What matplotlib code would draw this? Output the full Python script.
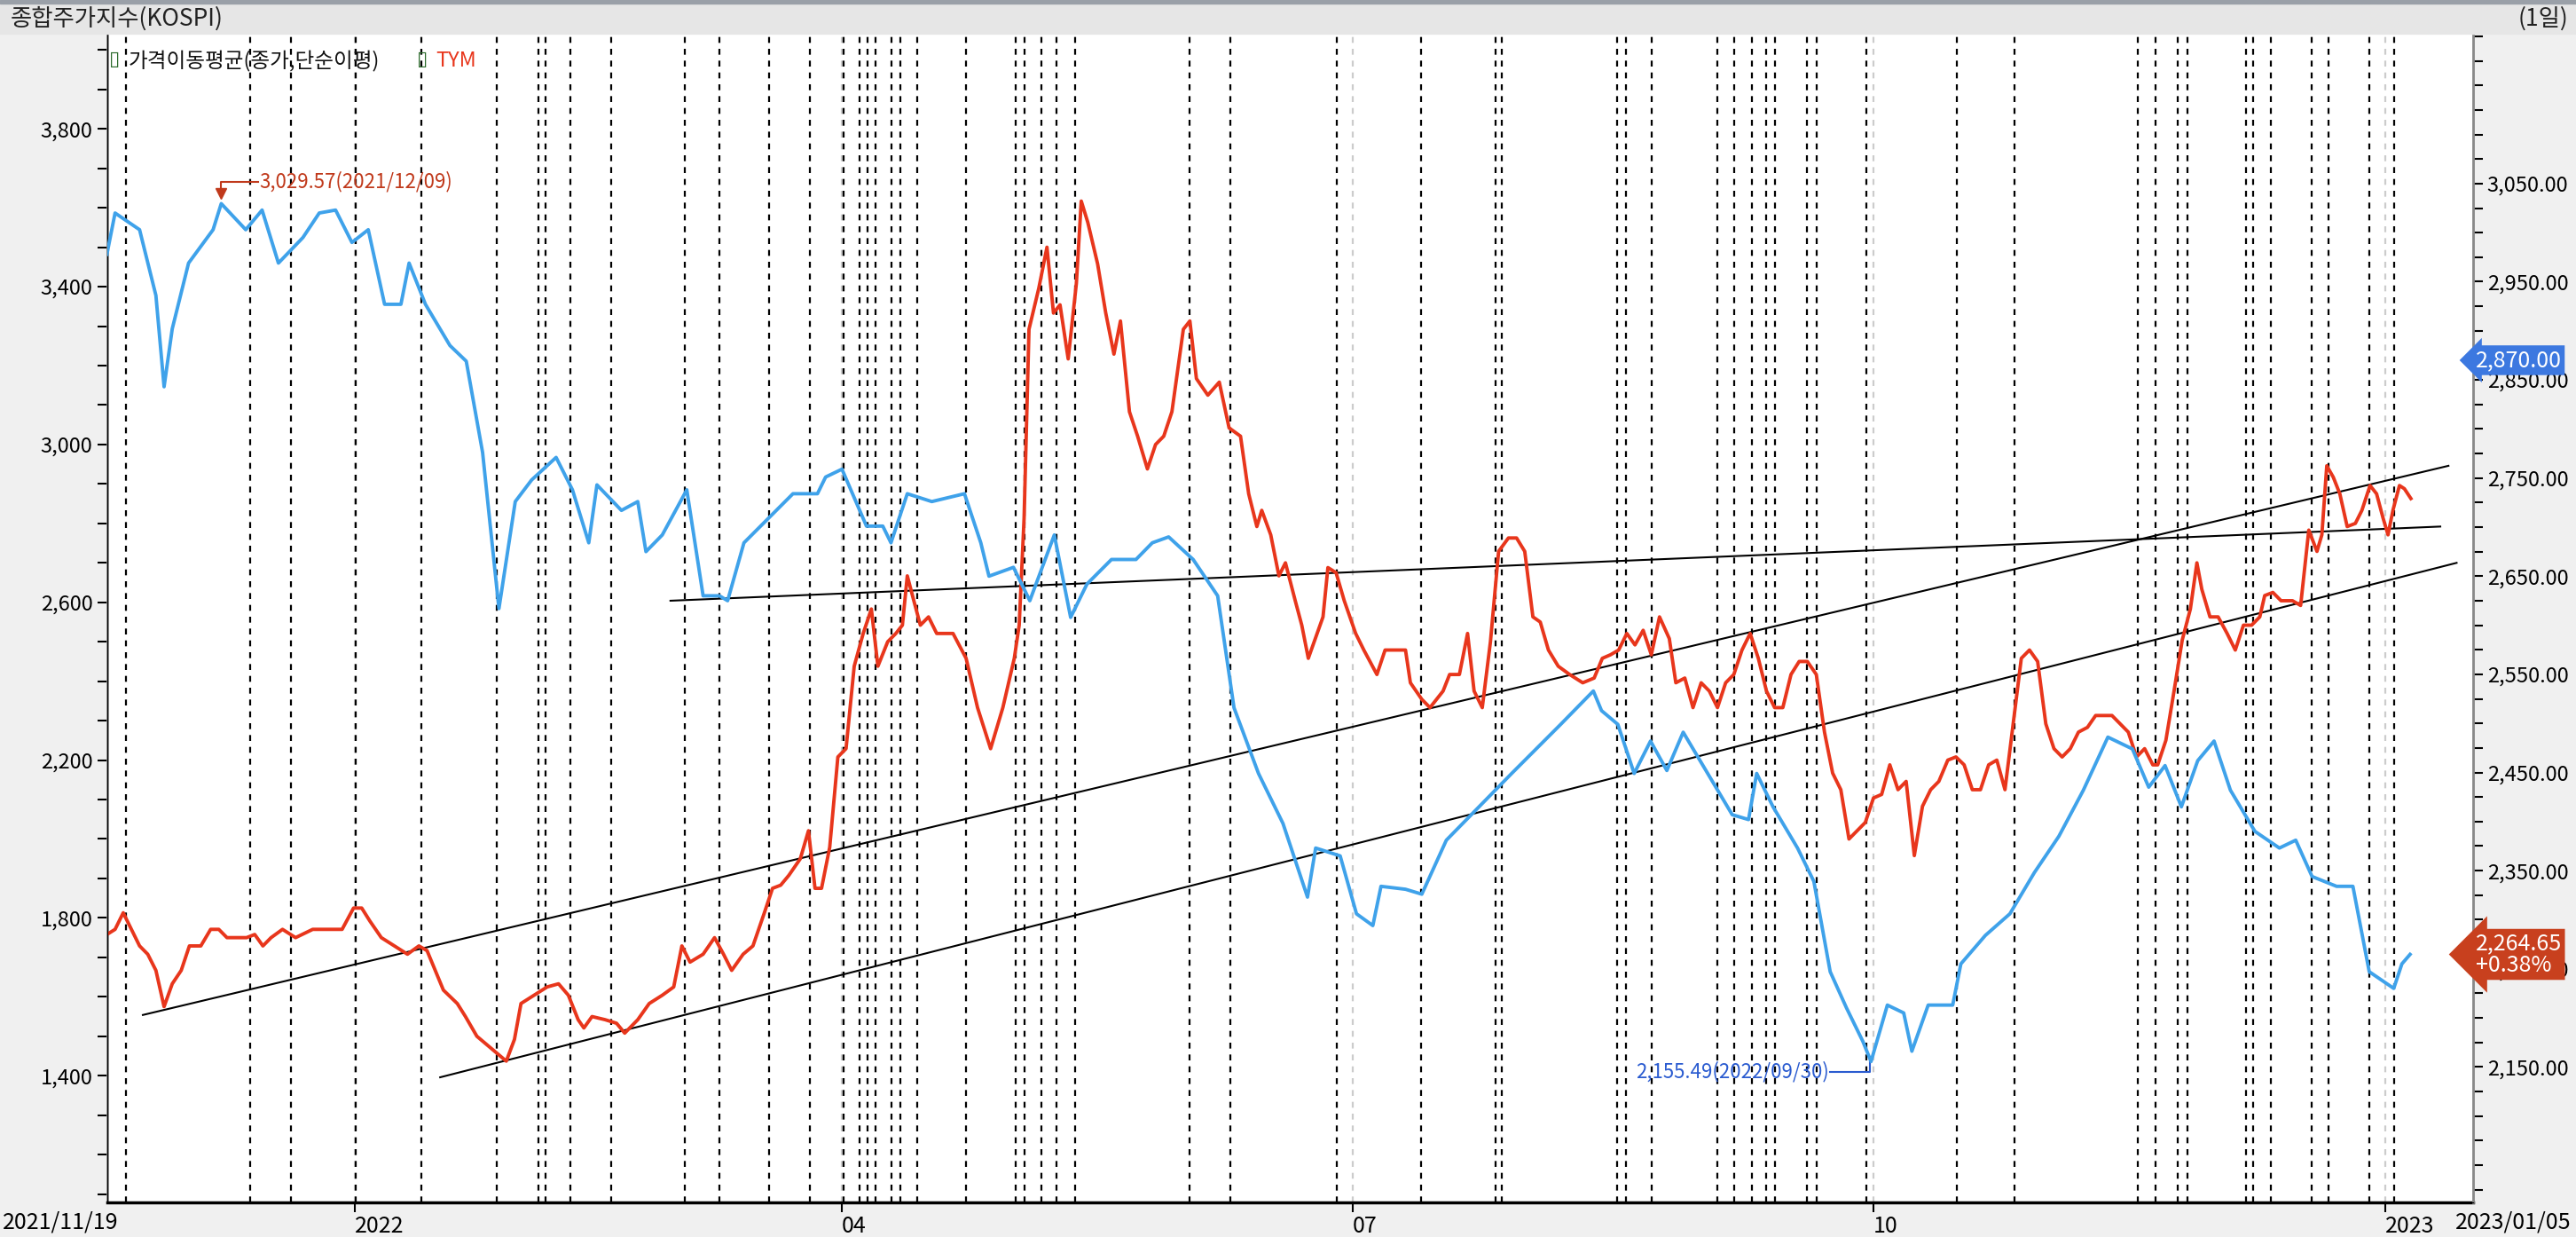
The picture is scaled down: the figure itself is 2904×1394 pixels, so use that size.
import matplotlib
matplotlib.use("Agg")
import matplotlib.pyplot as plt
from matplotlib.ticker import MultipleLocator, FuncFormatter
from matplotlib.patches import Rectangle

plt.rcParams['font.family'] = ['Noto Sans CJK KR', 'DejaVu Sans']

# ---- data (trading-day index, values) ----
kospi_days = [0,1,4,6,7,8,10,13,14,17,19,21,24,26,28,30,32,34,36,37,39,42,44,46,48,50,52,55,57,59,60,63,65,66,68,71,73,75,76,78,81,84,87,88,90,93,95,96,98,101,105,107,108,111,113,116,118,120,123,126,128,130,133,136,138,141,144,147,148,151,153,155,156,159,161,164,168,172,175,178,182,183,185,187,189,191,193,196,199,201,202,204,207,209,211,213,215,216,218,220,221,223,226,227,230,233,236,239,242,245,248,250,252,254,256,258,260,263,266,268,270,273,275,277,280,281,282]
kospi = [2978,3020,3003,2936,2843,2902,2969,3003,3029.57,3003,3023,2969,2995,3020,3023,2990,3003,2927,2927,2969,2927,2885,2869,2776,2617,2726,2748,2771,2738,2684,2743,2717,2726,2675,2692,2738,2630,2630,2625,2684,2709,2734,2734,2751,2759,2701,2701,2684,2734,2726,2734,2684,2650,2659,2625,2692,2608,2642,2667,2667,2684,2690,2667,2630,2516,2449,2398,2323,2373,2365,2306,2294,2334,2331,2326,2381,2415,2449,2474,2499,2533,2513,2499,2449,2482,2452,2491,2449,2407,2402,2449,2415,2373,2339,2247,2210,2176,2155.49,2213,2205,2166,2213,2213,2255,2284,2306,2348,2385,2432,2486,2474,2435,2457,2415,2462,2482,2432,2390,2373,2381,2344,2334,2334,2247,2230,2255,2264.65]

tym_days = [0,1.0,2.0,3.0,4.0,5.0,6.0,7.0,8.0,9.1,10.1,11.5,12.7,13.7,14.7,16.1,17.1,18.1,19.1,20.1,21.5,23.1,25.2,27.2,28.8,30.2,31.2,32.2,33.6,35.2,36.8,38.2,39.2,40.2,41.2,42.9,43.9,45.3,46.5,47.7,48.9,49.9,50.7,52.3,53.9,55.3,56.5,57.7,58.4,59.4,61.0,62.4,63.4,65.0,66.4,68.0,69.4,70.4,71.4,73.0,74.4,75.5,76.5,77.9,79.1,80.5,81.5,82.5,83.5,84.9,85.9,86.7,87.5,88.5,89.5,90.5,91.5,92.6,93.6,94.4,95.6,96.6,97.4,98.0,98.8,99.6,100.6,101.6,102.6,103.6,105.2,106.6,108.2,109.7,111.1,111.7,112.3,112.9,114.1,115.1,115.9,116.7,117.7,118.7,119.3,120.1,121.3,122.3,123.3,124.1,125.2,126.2,127.4,128.4,129.4,130.4,131.8,132.6,133.4,134.8,136.2,137.4,138.8,139.8,140.8,141.4,142.5,143.5,144.3,145.5,146.3,147.1,148.9,149.5,150.5,151.5,152.9,153.9,155.5,156.5,157.5,159.0,159.6,161.0,162.0,163.6,164.4,165.6,166.6,167.4,168.4,169.4,170.4,171.6,172.6,173.6,174.6,175.5,176.5,177.7,179.1,180.7,182.1,183.1,184.1,185.1,186.1,187.1,188.1,189.1,190.1,191.3,192.1,193.2,194.2,195.2,196.2,197.2,198.2,199.2,200.2,201.2,202.2,203.2,204.2,205.2,206.2,207.2,208.2,209.3,210.3,211.3,212.3,213.3,214.3,215.3,216.3,217.3,218.3,219.3,220.3,221.3,222.3,223.3,224.3,225.4,226.4,227.4,228.4,229.4,230.4,231.4,232.4,233.4,234.4,235.4,236.4,237.4,238.4,239.4,240.4,241.4,242.5,243.5,244.5,245.5,246.5,247.5,248.5,249.5,250.5,251.1,252.1,253.1,254.1,255.1,255.9,256.5,257.5,258.5,259.6,260.6,261.6,262.6,263.6,264.2,265.2,266.2,267.6,268.6,269.6,270.6,271.2,271.8,272.6,273.4,274.3,275.3,276.1,277.1,277.9,278.7,279.3,279.9,280.7,281.3,282.1]
tym = [1758,1771,1813,1771,1729,1708,1667,1575,1633,1667,1729,1729,1771,1771,1750,1750,1750,1758,1729,1750,1771,1750,1771,1771,1771,1825,1825,1792,1750,1729,1708,1729,1717,1667,1617,1583,1550,1500,1479,1458,1437,1492,1583,1604,1625,1633,1604,1542,1521,1550,1542,1533,1508,1542,1583,1604,1625,1729,1688,1708,1750,1708,1667,1708,1729,1813,1875,1883,1908,1950,2021,1875,1875,1979,2208,2229,2438,2521,2583,2438,2500,2521,2542,2667,2604,2542,2563,2521,2521,2521,2458,2333,2229,2333,2458,2542,2813,3292,3396,3500,3333,3354,3217,3408,3617,3563,3458,3333,3229,3313,3083,3021,2938,3000,3021,3083,3292,3313,3167,3125,3158,3042,3021,2875,2792,2833,2771,2667,2700,2604,2542,2458,2563,2688,2675,2604,2521,2479,2417,2479,2479,2479,2396,2354,2333,2375,2417,2417,2521,2375,2333,2500,2729,2763,2763,2729,2563,2550,2479,2438,2417,2396,2408,2458,2467,2479,2521,2492,2529,2467,2563,2508,2396,2408,2333,2396,2375,2333,2396,2417,2479,2521,2458,2375,2333,2333,2417,2450,2450,2417,2271,2167,2125,2000,2021,2042,2104,2113,2188,2125,2146,1958,2083,2125,2146,2200,2208,2188,2125,2125,2188,2200,2125,2292,2458,2479,2450,2292,2229,2208,2229,2271,2283,2313,2313,2313,2292,2271,2208,2229,2188,2188,2250,2375,2504,2583,2700,2633,2563,2563,2521,2479,2542,2542,2563,2617,2625,2604,2604,2592,2783,2729,2771,2946,2917,2875,2792,2800,2833,2896,2875,2813,2771,2833,2896,2888,2863]

n = min(len(tym_days), len(tym))
tym_days = tym_days[:n]; tym = tym[:n]

vlines = [2.3,17.5,22.5,30.5,38.5,47.7,52.8,53.7,56.7,61.7,70.8,75,81.1,86.1,90.2,92.2,93.1,94.1,96.1,97.2,99.2,105.2,111.3,112.4,114.4,116.3,118.5,132.6,137.6,150.6,160.9,170,170.8,184.9,186,189.1,197.2,199.2,201.4,203.2,204.2,208.2,209.3,215.4,226.5,233.6,248.7,250.8,253.6,254.7,261.9,262.8,265,270,272,277,280]
tick_pos = [30.4, 90, 152.5, 216.3, 279]
tick_labels = ['2022', '04', '07', '10', '2023']
left_ticks = [1400, 1800, 2200, 2600, 3000, 3400, 3800]
right_ticks = [2150, 2250, 2350, 2450, 2550, 2650, 2750, 2850, 2950, 3050]

trend_x = [[4.4, 286.7], [40.8, 287.7], [69, 285.7]]
trend_y = [[1554, 2946], [1396, 2700], [2604, 2792]]

BLUE = '#3fa2ea'
RED = '#e8361c'

fig = plt.figure(figsize=(29.04, 13.94), dpi=100, facecolor='#f0f0f0')
fig.patches.append(Rectangle((0, 0.973), 1, 0.024, transform=fig.transFigure, color='#e6e6e6', zorder=0))
fig.patches.append(Rectangle((0, 0.997), 1, 0.003, transform=fig.transFigure, color='#9aa0a8', zorder=0))
fig.text(0.004, 0.985, '종합주가지수(KOSPI)', fontsize=19, va='center', ha='left', color='#222222')
fig.text(0.997, 0.985, '(1일)', fontsize=19, va='center', ha='right', color='#222222')

ax = fig.add_axes([0.0415, 0.028, 0.9185, 0.945])
ax.set_facecolor('white')
ax2 = ax.twinx()

for v in vlines:
    ax.axvline(v, color='black', lw=1.6, ls=(0, (3, 3)), zorder=1)
for v in tick_pos:
    ax.axvline(v, color='#cccccc', lw=1.6, ls=(0, (3, 3)), zorder=0.9)

for tx, ty in zip(trend_x, trend_y):
    ax.plot(tx, ty, color='black', lw=1.5, zorder=2)

ax.plot(tym_days, tym, color=RED, lw=2.8, zorder=3)
ax2.plot(kospi_days, kospi, color=BLUE, lw=2.8, zorder=3)

ax.set_xlim(0, 289.7)
ax.set_ylim(1079, 4042)
ax2.set_ylim(2012, 3203)

ax.set_yticks(left_ticks)
ax.yaxis.set_minor_locator(MultipleLocator(100))
ax.yaxis.set_major_formatter(FuncFormatter(lambda v, p: f'{v:,.0f}'))
ax2.set_yticks(right_ticks)
ax2.yaxis.set_minor_locator(MultipleLocator(25))
ax2.yaxis.set_major_formatter(FuncFormatter(lambda v, p: f'{v:,.2f}'))

ax.set_xticks(tick_pos)
ax.set_xticklabels(tick_labels, ha='left')
ax.tick_params(axis='x', length=8, width=1.5, labelsize=18, pad=2)
ax.tick_params(axis='y', which='major', length=8, width=1.5, labelsize=17)
ax.tick_params(axis='y', which='minor', length=8, width=1.5)
ax2.tick_params(axis='y', which='major', length=8, width=1.5, labelsize=17)
ax2.tick_params(axis='y', which='minor', length=8, width=1.5)
ax.spines['top'].set_visible(False); ax2.spines['top'].set_visible(False)
ax.spines['left'].set_color('#888888'); ax.spines['left'].set_linewidth(2)
ax2.spines['right'].set_color('#888888'); ax2.spines['right'].set_linewidth(2)
ax.spines['bottom'].set_linewidth(2.5)

fig.text(0.001, 0.012, '2021/11/19', fontsize=18, ha='left', va='center')
fig.text(0.998, 0.012, '2023/01/05', fontsize=18, ha='right', va='center')

# legend
ax.text(0.001, 0.985, '▯', transform=ax.transAxes, fontsize=16, color='#2a6a2a', va='top', family=['DejaVu Sans'])
ax.text(0.009, 0.985, '가격이동평균(종가,단순이평)', transform=ax.transAxes, fontsize=17, va='top', color='#111111')
ax.text(0.131, 0.985, '▯', transform=ax.transAxes, fontsize=16, color='#2a6a2a', va='top', family=['DejaVu Sans'])
ax.text(0.139, 0.985, 'TYM', transform=ax.transAxes, fontsize=17, va='top', color=RED)

# annotations
ax2.plot([14], [3040], marker='v', color='#c0391b', ms=9, zorder=4)
ax2.plot([14, 14, 18.5], [3040, 3052, 3052], color='#c0391b', lw=1.5)
ax2.text(18.7, 3052, '3,029.57(2021/12/09)', color='#c0391b', fontsize=16, va='center')
ax2.plot([215.9, 215.9, 211], [2160, 2145, 2145], color='#2a5bd0', lw=1.5)
ax2.text(210.8, 2145, '2,155.49(2022/09/30)', color='#2a5bd0', fontsize=16, va='center', ha='right')

ax2.annotate('2,870.00', xy=(1.001, 2870), xycoords=('axes fraction', 'data'), fontsize=18, color='white',
             va='center', ha='left', bbox=dict(boxstyle='larrow,pad=0.15', fc='#3c78e0', ec='none'),
             annotation_clip=False, zorder=10)
ax2.annotate('2,264.65\n+0.38%', xy=(1.001, 2264.65), xycoords=('axes fraction', 'data'), fontsize=18, color='white',
             va='center', ha='left', linespacing=0.9, bbox=dict(boxstyle='larrow,pad=0.15', fc='#c8401e', ec='none'),
             annotation_clip=False, zorder=10)

fig.savefig('out.png', dpi=100, facecolor=fig.get_facecolor())
